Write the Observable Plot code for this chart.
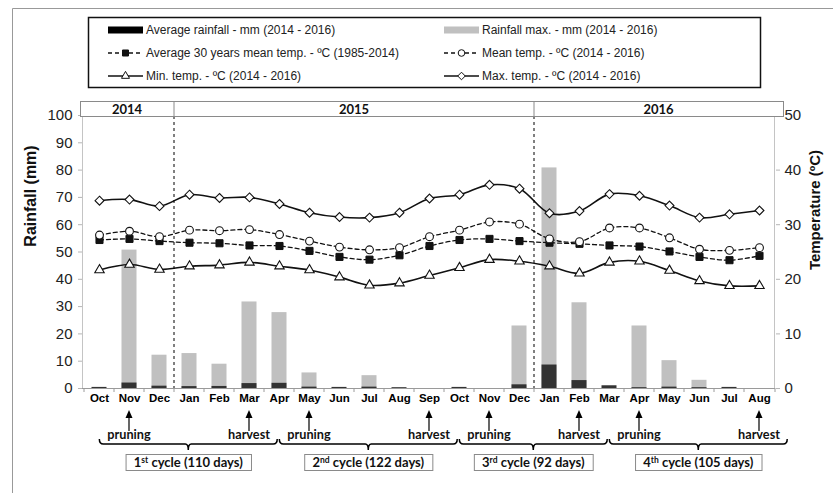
<!DOCTYPE html>
<html>
<head>
<meta charset="utf-8">
<script src="https://cdn.jsdelivr.net/npm/d3@7"></script>
<script src="https://cdn.jsdelivr.net/npm/@observablehq/plot@0.6"></script>
<style>
  body { margin: 0; background: #fff; }
  svg { display: block; }
</style>
</head>
<body>
<div id="chart"></div>
<script>
// ---------------- data ----------------
const monthLabels = ["Oct","Nov","Dec","Jan","Feb","Mar","Apr","May","Jun","Jul","Aug","Sep","Oct","Nov","Dec","Jan","Feb","Mar","Apr","May","Jun","Jul","Aug"];
const yearLabels = ["2014", "2015", "2016"];
const yearStarts = [0, 3, 15];          // month index where each year starts
const rainMax = [0, 50.7, 12.2, 12.8, 8.9, 31.7, 27.8, 5.7, 0, 4.7, 0, 0, 0, 0, 22.9, 80.8, 31.4, 0, 22.9, 10.2, 3.0, 0, 0];
const rainAvg = [0.4, 2.0, 0.85, 0.7, 0.75, 1.8, 1.9, 0.5, 0.4, 0.5, 0.3, 0, 0.4, 0, 1.35, 8.6, 2.9, 1.0, 0.3, 0.5, 0.3, 0.4, 0];
const tempMax = [34.4, 34.6, 33.4, 35.5, 34.9, 35.0, 33.8, 32.2, 31.4, 31.3, 32.2, 34.8, 35.5, 37.3, 36.6, 32.1, 32.5, 35.6, 35.3, 33.5, 31.3, 31.9, 32.6];
const tempMean = [28.1, 28.8, 27.8, 29.0, 28.9, 29.1, 28.2, 27.0, 25.9, 25.4, 25.8, 27.8, 29.0, 30.5, 30.1, 27.4, 26.9, 29.4, 29.4, 27.6, 25.5, 25.3, 25.8];
const tempAvg30 = [27.2, 27.4, 27.0, 26.7, 26.6, 26.2, 26.1, 25.2, 24.1, 23.6, 24.4, 26.1, 27.2, 27.4, 27.0, 26.7, 26.5, 26.2, 26.0, 25.1, 24.1, 23.5, 24.3];
const tempMin = [21.7, 22.7, 21.8, 22.4, 22.6, 23.1, 22.4, 21.7, 20.4, 18.9, 19.3, 20.7, 22.1, 23.6, 23.3, 22.4, 21.1, 23.1, 23.3, 21.6, 19.7, 18.8, 18.8];
const rainTicks = [0, 10, 20, 30, 40, 50, 60, 70, 80, 90, 100];
const tempTicks = [0, 10, 20, 30, 40, 50];
const eventMonths = [1, 5, 7, 11, 13, 16, 18, 22];
const eventLabels = ["pruning", "harvest", "pruning", "harvest", "pruning", "harvest", "pruning", "harvest"];
const cycleNumbers = ["1", "2", "3", "4"];
const cycleSups = ["st", "nd", "rd", "th"];
const cycleDays = [110, 122, 92, 105];
const legendLabels = [
  "Average rainfall - mm (2014 - 2016)",
  "Rainfall max. - mm (2014 - 2016)",
  "Average 30 years mean temp. - ºC (1985-2014)",
  "Mean temp. - ºC (2014 - 2016)",
  "Min. temp. - ºC (2014 - 2016)",
  "Max. temp. - ºC (2014 - 2016)"
];

// ---------------- setup ----------------
const TEMP_K = 2; // temperature plotted on rainfall scale: 50 ºC <-> 100 mm
const idx = d3.range(monthLabels.length);
const rows = idx.map(i => ({
  i, rainMax: rainMax[i], rainAvg: rainAvg[i],
  tMax: tempMax[i] * TEMP_K, tMean: tempMean[i] * TEMP_K,
  tAvg30: tempAvg30[i] * TEMP_K, tMin: tempMin[i] * TEMP_K
}));

const W = 833, H = 493;
const M = { left: 82, right: 58, top: 115, bottom: 105 };
const SANS = "'Liberation Sans', Arial, sans-serif";
const CAL = "Lato, 'Liberation Sans', sans-serif";
const INK = "#111";

const sym = {
  max: { symbol: "diamond2", r: 4.0 },
  mean: { symbol: "circle", r: 3.9 },
  avg30: { symbol: "square", r: 4.0 },
  min: { symbol: "triangle", r: 3.5 }
};

const plot = Plot.plot({
  width: W, height: H,
  marginLeft: M.left, marginRight: M.right, marginTop: M.top, marginBottom: M.bottom,
  style: { fontFamily: SANS, background: "white", overflow: "visible" },
  x: { type: "band", domain: idx, padding: 0, axis: null, label: null },
  y: { domain: [0, 100], axis: null, label: null },
  marks: [
    Plot.ruleY([0], { stroke: "#9a9a9a", strokeWidth: 1 }),
    Plot.barY(rows, { x: "i", y: "rainMax", fill: "#c0c0c0", insetLeft: 7.5, insetRight: 7.5 }),
    Plot.barY(rows, { x: "i", y: "rainAvg", fill: "#333333", insetLeft: 7.5, insetRight: 7.5 }),

    Plot.line(rows, { x: "i", y: "tMax", curve: "catmull-rom", stroke: INK, strokeWidth: 1.6 }),
    Plot.dot(rows, { x: "i", y: "tMax", ...sym.max, fill: "white", stroke: INK, strokeWidth: 1.1 }),

    Plot.line(rows, { x: "i", y: "tAvg30", curve: "catmull-rom", stroke: INK, strokeWidth: 1.3, strokeDasharray: "4,3" }),
    Plot.dot(rows, { x: "i", y: "tAvg30", ...sym.avg30, fill: INK, stroke: INK, strokeWidth: 1 }),

    Plot.line(rows, { x: "i", y: "tMean", curve: "catmull-rom", stroke: INK, strokeWidth: 1.3, strokeDasharray: "4,3" }),
    Plot.dot(rows, { x: "i", y: "tMean", ...sym.mean, fill: "white", stroke: INK, strokeWidth: 1.1 }),

    Plot.line(rows, { x: "i", y: "tMin", curve: "catmull-rom", stroke: INK, strokeWidth: 1.6 }),
    Plot.dot(rows, { x: "i", y: "tMin", ...sym.min, fill: "white", stroke: INK, strokeWidth: 1.1 }),

    // left axis: ticks + labels
    Plot.axisY({ anchor: "left", ticks: rainTicks, tickSize: 4, color: "#b5b5b5", tickFormat: () => "", label: null }),
    Plot.axisY({ anchor: "left", ticks: rainTicks, tickSize: 0, tickPadding: 10, color: "#222", fontSize: 15, fontFamily: SANS, label: null }),
    // right axis (temperature)
    Plot.axisY({ anchor: "right", ticks: tempTicks.map(t => t * TEMP_K), tickSize: 4, color: "#b5b5b5", tickFormat: () => "", label: null }),
    Plot.axisY({ anchor: "right", ticks: tempTicks.map(t => t * TEMP_K), tickSize: 0, tickPadding: 9, color: "#222", fontSize: 15, fontFamily: SANS, tickFormat: d => String(d / TEMP_K), label: null }),
    // month axis
    Plot.axisX({ anchor: "bottom", tickSize: 0, tickPadding: 5, color: "#000", fontSize: 11.5, fontWeight: "bold", fontFamily: SANS, tickFormat: i => monthLabels[i], label: null })
  ]
});
document.getElementById("chart").appendChild(plot);

// ---------------- overlays ----------------
const svg = d3.select(plot);
const xs = plot.scale("x");
const bw = xs.bandwidth;
const edge = i => xs.apply(i);           // left edge of band i
const cx = i => xs.apply(i) + bw / 2;   // centre of band i
const L = M.left, R = W - M.right, T = M.top, B = H - M.bottom;

// outer frame
svg.append("path").attr("d", `M12.5,${H} V8.5 H${W}`).attr("fill", "none").attr("stroke", "#999");

// axis lines
svg.append("line").attr("x1", L + 0.5).attr("x2", L + 0.5).attr("y1", T).attr("y2", B).attr("stroke", "#c4c4c4");
svg.append("line").attr("x1", R - 0.5).attr("x2", R - 0.5).attr("y1", T).attr("y2", B).attr("stroke", "#c4c4c4");
// category tick marks between months
svg.append("g").selectAll("line").data(d3.range(monthLabels.length + 1)).join("line")
  .attr("x1", i => i < monthLabels.length ? edge(i) : R).attr("x2", i => i < monthLabels.length ? edge(i) : R)
  .attr("y1", B).attr("y2", B + 4).attr("stroke", "#9a9a9a");

// year dividers (dashed)
yearStarts.slice(1).forEach(s => {
  svg.append("line").attr("x1", edge(s)).attr("x2", edge(s)).attr("y1", T + 1).attr("y2", B)
    .attr("stroke", "#000").attr("stroke-dasharray", "3,3").attr("stroke-width", 1);
});

// year header
const hdrTop = T - 14, hdrH = 15, hdrL = L - 2, hdrR = R + 8;
const hdr = svg.append("g");
hdr.append("rect").attr("x", hdrL + 0.5).attr("y", hdrTop + 0.5).attr("width", hdrR - hdrL).attr("height", hdrH)
  .attr("fill", "white").attr("stroke", "#8a8a8a");
yearLabels.forEach((lab, k) => {
  const x0 = k === 0 ? hdrL : edge(yearStarts[k]);
  const x1 = k === yearLabels.length - 1 ? hdrR : edge(yearStarts[k + 1]);
  if (k > 0) hdr.append("line").attr("x1", x0).attr("x2", x0).attr("y1", hdrTop).attr("y2", hdrTop + hdrH).attr("stroke", "#8a8a8a");
  hdr.append("text").attr("x", (x0 + x1) / 2).attr("y", hdrTop + hdrH / 2 + 0.5).attr("text-anchor", "middle")
    .attr("dy", "0.36em").attr("font-family", CAL).attr("font-weight", "bold").attr("font-size", 13)
    .attr("fill", "#111").text(lab);
});

// axis titles
svg.append("text").attr("transform", `translate(30,196) rotate(-90)`).attr("text-anchor", "middle")
  .attr("dy", "0.36em").attr("font-family", SANS).attr("font-weight", "bold").attr("font-size", 16)
  .attr("fill", "#111").text("Rainfall (mm)");
svg.append("text").attr("transform", `translate(815,210) rotate(-90)`).attr("text-anchor", "middle")
  .attr("dy", "0.36em").attr("font-family", SANS).attr("font-weight", "bold").attr("font-size", 15)
  .attr("fill", "#111").text("Temperature (ºC)");

// ---------------- legend ----------------
const lg = svg.append("g");
lg.append("rect").attr("x", 88.5).attr("y", 17.5).attr("width", 672).attr("height", 70)
  .attr("fill", "white").attr("stroke", "#111").attr("stroke-width", 1.5);
const colX = [108, 444], rowY = [30, 53, 76], symW = 35;
const symbolPath = (name, r) => d3.symbol(
  { circle: d3.symbolCircle, square: d3.symbolSquare, triangle: d3.symbolTriangle, diamond2: d3.symbolDiamond2 }[name],
  r * r * Math.PI)();
const legendItems = [
  { kind: "bar", fill: "#000" },
  { kind: "bar", fill: "#c0c0c0" },
  { kind: "line", dash: "4,3", s: sym.avg30, fill: INK },
  { kind: "line", dash: "4,3", s: sym.mean, fill: "white" },
  { kind: "line", dash: null, s: sym.min, fill: "white" },
  { kind: "line", dash: null, s: sym.max, fill: "white" }
];
legendItems.forEach((it, k) => {
  const x = colX[k % 2], y = rowY[Math.floor(k / 2)];
  const g = lg.append("g");
  if (it.kind === "bar") {
    g.append("rect").attr("x", x).attr("y", y - 3.5).attr("width", symW).attr("height", 7).attr("fill", it.fill);
  } else {
    g.append("line").attr("x1", x).attr("x2", x + symW).attr("y1", y).attr("y2", y)
      .attr("stroke", INK).attr("stroke-width", 1.3).attr("stroke-dasharray", it.dash);
    g.append("path").attr("d", symbolPath(it.s.symbol, it.s.r * 0.85)).attr("transform", `translate(${x + symW / 2},${y})`)
      .attr("fill", it.fill).attr("stroke", INK).attr("stroke-width", 1);
  }
  g.append("text").attr("x", x + symW + 3).attr("y", y).attr("dy", "0.35em").attr("text-anchor", "start")
    .attr("font-family", SANS).attr("font-size", 12).attr("fill", "#222").text(legendLabels[k]);
});

// ---------------- bottom annotations ----------------
const ann = svg.append("g");
const arrowTip = B + 22, arrowTail = B + 43, labelY = B + 51, braceY = B + 56, boxTop = B + 66, boxH = 16;
const labelNodes = [];
eventMonths.forEach((m, k) => {
  const x = cx(m);
  ann.append("line").attr("x1", x).attr("x2", x).attr("y1", arrowTip + 5).attr("y2", arrowTail)
    .attr("stroke", "#000").attr("stroke-width", 1.2);
  ann.append("path").attr("d", `M${x},${arrowTip} L${x - 3.5},${arrowTip + 8} L${x + 3.5},${arrowTip + 8} Z`).attr("fill", "#000");
  const t = ann.append("text").attr("x", x).attr("y", labelY).attr("text-anchor", "middle")
    .attr("font-family", CAL).attr("font-weight", "bold").attr("font-size", 12.7).attr("fill", "#111").text(eventLabels[k]);
  labelNodes.push(t.node());
});
cycleDays.forEach((days, c) => {
  const a = labelNodes[2 * c].getBBox(), b = labelNodes[2 * c + 1].getBBox();
  const x0 = a.x - 8, x1 = b.x + b.width + 7, xm = (x0 + x1) / 2, y = braceY;
  ann.append("path")
    .attr("d", `M${x0},${y - 5} Q${x0},${y} ${x0 + 4},${y} L${xm - 3},${y} Q${xm},${y} ${xm},${y + 6} Q${xm},${y} ${xm + 3},${y} L${x1 - 4},${y} Q${x1},${y} ${x1},${y - 5}`)
    .attr("fill", "none").attr("stroke", "#000").attr("stroke-width", 1.5);
  const box = ann.append("g");
  const rect = box.append("rect");
  const t = box.append("text").attr("x", xm).attr("y", boxTop + boxH / 2).attr("dy", "0.36em").attr("text-anchor", "middle")
    .attr("font-family", CAL).attr("font-weight", "bold").attr("font-size", 13).attr("fill", "#111");
  t.append("tspan").text(cycleNumbers[c]);
  t.append("tspan").attr("dy", -4).attr("font-size", 8.5).text(cycleSups[c]);
  t.append("tspan").attr("dy", 4).text(` cycle (${days} days)`);
  const bb = t.node().getBBox();
  const bwid = bb.width + 16;
  rect.attr("x", xm - bwid / 2 + 0.5).attr("y", boxTop + 0.5).attr("width", bwid).attr("height", boxH)
    .attr("fill", "white").attr("stroke", "#8a8a8a");
});
</script>
</body>
</html>
